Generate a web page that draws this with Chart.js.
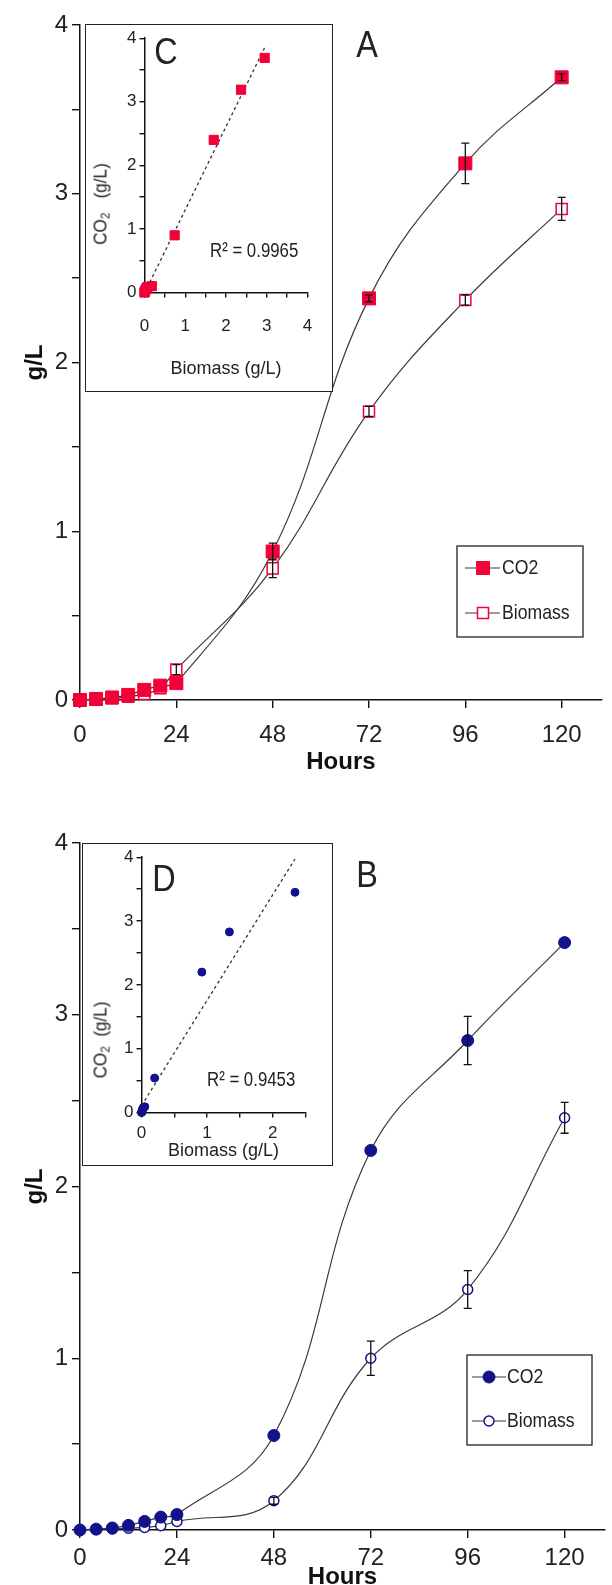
<!DOCTYPE html>
<html>
<head>
<meta charset="utf-8">
<script src="https://cdn.jsdelivr.net/npm/chart.js@4.4.1/dist/chart.umd.min.js"></script>
<style>
  html, body { margin: 0; padding: 0; background: #fff; overflow: hidden; }
  #page { position: relative; width: 612px; height: 1585px; overflow: hidden;
          font-family: "Liberation Sans Narrow", "Liberation Sans", Arial, sans-serif; color: #222; }
  #page canvas { position: absolute; left: 0; }
  #chartA { top: 0; }
  #chartB { top: 800px; }
  .inset { position: absolute; box-sizing: border-box; border: 1.5px solid #222; background: #fff; z-index: 2; }
  .inset canvas { top: 0; }
  #boxC { left: 85px; top: 24px; width: 248px; height: 368px; }
  #boxD { left: 82px; top: 843px; width: 251px; height: 323px; }
  .tag { position: absolute; transform: translate(-50%, -50%) scaleX(0.9); font-size: 36px; line-height: 1; z-index: 3; }
  .r2 { position: absolute; transform-origin: 0 50%; transform: translateY(-50%) scaleX(0.84); font-size: 20px;
        line-height: 1; white-space: nowrap; z-index: 3; }
  .ytitle { position: absolute; transform: translate(-50%, -50%) rotate(-90deg) scaleX(0.9); font-size: 19px;
            line-height: 1; white-space: nowrap; z-index: 3; }
  .ytitle sub { font-size: 13px; vertical-align: -3px; line-height: 0; }
</style>
</head>
<body>
<div id="page">
  <canvas id="chartA" width="612" height="780"></canvas>
  <canvas id="chartB" width="612" height="800"></canvas>
  <div class="inset" id="boxC"><canvas id="chartC" width="245" height="365"></canvas></div>
  <div class="inset" id="boxD"><canvas id="chartD" width="248" height="320"></canvas></div>
  <div class="tag" style="left:367px; top:45px;">A</div>
  <div class="tag" style="left:367px; top:875px;">B</div>
  <div class="tag" style="left:166px; top:52px;">C</div>
  <div class="tag" style="left:164px; top:879px;">D</div>
  <div class="r2" style="left:210px; top:250px;">R² = 0.9965</div>
  <div class="r2" style="left:207px; top:1079px;">R² = 0.9453</div>
  <div class="ytitle" style="left:100px; top:204px;">CO<sub>2</sub>&nbsp;&nbsp;&nbsp;(g/L)</div>
  <div class="ytitle" style="left:100px; top:1040px;">CO<sub>2</sub>&nbsp;&nbsp;(g/L)</div>
</div>
<script>
// Sampling times (hours) and axis ticks
const hours = [0, 4, 8, 12, 16, 20, 24, 48, 72, 96, 120];
const hourTicks = [0, 24, 48, 72, 96, 120];
const gLTicks = [0, 0.5, 1, 1.5, 2, 2.5, 3, 3.5, 4];
const insetCXTicks = [0, 0.5, 1, 1.5, 2, 2.5, 3, 3.5, 4];
const insetDXTicks = [0, 0.5, 1, 1.5, 2, 2.5];

// Panel A
const co2A = [0, 0.006, 0.015, 0.03, 0.06, 0.085, 0.1, 0.88, 2.38, 3.18, 3.69];
const co2AErr = [0, 0, 0, 0, 0, 0, 0, 0.05, 0.02, 0.12, 0.02];
const biomassA = [0, 0.004, 0.01, 0.02, 0.035, 0.07, 0.18, 0.78, 1.71, 2.37, 2.91];
const biomassAErr = [0, 0, 0, 0, 0, 0, 0.03, 0.055, 0.03, 0.03, 0.068];

// Panel B
const co2B = [0, 0.005, 0.012, 0.027, 0.05, 0.075, 0.09, 0.55, 2.21, 2.85, 3.42];
const co2BErr = [0, 0, 0, 0, 0, 0, 0, 0, 0, 0.14, 0];
const biomassB = [0, 0.003, 0.006, 0.01, 0.015, 0.025, 0.05, 0.17, 1.0, 1.4, 2.4];
const biomassBErr = [0, 0, 0, 0, 0, 0, 0, 0.02, 0.1, 0.11, 0.09];

// Inset C / D: CO2 vs biomass
const insetCBiomass = [0, 0.004, 0.01, 0.02, 0.035, 0.07, 0.18, 0.74, 1.7, 2.37, 2.95];
const insetCCO2 = [0, 0.006, 0.015, 0.03, 0.06, 0.085, 0.1, 0.9, 2.4, 3.19, 3.69];
const insetDBiomass = [0, 0.003, 0.006, 0.01, 0.015, 0.025, 0.05, 0.2, 0.92, 1.34, 2.34];
const insetDCO2 = [0, 0.005, 0.012, 0.027, 0.05, 0.075, 0.09, 0.54, 2.2, 2.83, 3.45];

const FONT = '"Liberation Sans Narrow", "Liberation Sans", Arial, sans-serif';
const RED = '#f20038';
const NAVY = '#12128a';
const LINE = '#3a3a3a';
Chart.defaults.font.family = FONT;

function pts(xs, ys) {
    return xs.map((x, i) => ({ x: x, y: ys[i] }));
}

function drawMarker(ctx, ds, x, y) {
    const r = ds.pointRadius;
    ctx.fillStyle = ds.pointBackgroundColor;
    ctx.strokeStyle = ds.pointBorderColor;
    ctx.lineWidth = ds.pointBorderWidth;
    ctx.beginPath();
    if (ds.pointStyle === 'rect') {
        const s = r * Math.SQRT1_2;
        ctx.rect(x - s, y - s, 2 * s, 2 * s);
    } else {
        ctx.arc(x, y, r, 0, Math.PI * 2);
    }
    ctx.fill();
    ctx.stroke();
}

// vertical error bars with caps
const errorBars = {
    id: 'errorBars',
    afterDatasetsDraw(chart) {
        const { ctx, scales: { x, y } } = chart;
        ctx.save();
        ctx.strokeStyle = '#111';
        ctx.lineWidth = 1.3;
        chart.data.datasets.forEach(ds => {
            if (!ds.errors) return;
            ds.data.forEach((p, j) => {
                const e = ds.errors[j];
                if (!e) return;
                const px = x.getPixelForValue(p.x);
                const top = y.getPixelForValue(p.y + e);
                const bot = y.getPixelForValue(p.y - e);
                ctx.beginPath();
                ctx.moveTo(px, top); ctx.lineTo(px, bot);
                ctx.moveTo(px - 4, top); ctx.lineTo(px + 4, top);
                ctx.moveTo(px - 4, bot); ctx.lineTo(px + 4, bot);
                ctx.stroke();
            });
        });
        ctx.restore();
    }
};

// boxed legend inside the plot
function legendBox(box) {
    return {
        id: 'legendBox',
        afterDraw(chart) {
            const ctx = chart.ctx;
            ctx.save();
            ctx.fillStyle = '#fff';
            ctx.fillRect(box.x, box.y, box.w, box.h);
            ctx.strokeStyle = '#222';
            ctx.lineWidth = 1.3;
            ctx.strokeRect(box.x, box.y, box.w, box.h);
            chart.data.datasets.forEach((ds, i) => {
                const ry = box.rows[i];
                ctx.strokeStyle = ds.borderColor;
                ctx.lineWidth = ds.borderWidth;
                ctx.beginPath();
                ctx.moveTo(box.lx0, ry); ctx.lineTo(box.lx1, ry);
                ctx.stroke();
                drawMarker(ctx, ds, box.mx, ry);
                // squeeze the text a bit, the original uses a narrow face
                ctx.save();
                ctx.translate(box.tx, ry);
                ctx.scale(0.84, 1);
                ctx.fillStyle = '#222';
                ctx.font = '21px ' + FONT;
                ctx.textBaseline = 'middle';
                ctx.fillText(ds.label, 0, 0);
                ctx.restore();
            });
            ctx.restore();
        }
    };
}

function axisStyle(tickLen) {
    return {
        grid: { display: true, drawOnChartArea: false, drawTicks: true, tickLength: tickLen, color: '#111', lineWidth: 1.4 },
        border: { display: true, color: '#111', width: 1.5 }
    };
}

function mainChart(id, cfg, datasets, legend) {
    return new Chart(document.getElementById(id), {
        type: 'line',
        data: { datasets: datasets },
        options: {
            responsive: false,
            animation: false,
            events: [],
            layout: { padding: { top: cfg.top, right: 3, left: 0, bottom: 0 } },
            plugins: { legend: { display: false }, tooltip: { enabled: false } },
            scales: {
                x: {
                    type: 'linear', min: 0, max: 130,
                    ...axisStyle(8),
                    afterFit: s => { s.height = cfg.axisH; },
                    afterBuildTicks: s => { s.ticks = hourTicks.map(v => ({ value: v })); },
                    ticks: { font: { size: 24 }, color: '#222', padding: cfg.labelPad, maxRotation: 0, autoSkip: false },
                    title: { display: true, text: 'Hours', color: '#111',
                             font: { size: 24, weight: 'bold', lineHeight: 1.1 },
                             padding: { top: 0, bottom: cfg.titlePad } }
                },
                y: {
                    type: 'linear', min: 0, max: 4,
                    ...axisStyle(8),
                    afterFit: s => { s.width = 80; },
                    afterBuildTicks: s => { s.ticks = gLTicks.map(v => ({ value: v })); },
                    ticks: { font: { size: 24 }, color: '#222', padding: 4, autoSkip: false,
                             callback: v => Number.isInteger(v) ? v : '' },
                    title: { display: true, text: 'g/L', color: '#111',
                             font: { size: 24, weight: 'bold', lineHeight: 1.1 },
                             padding: { top: 22, bottom: 0 } }
                }
            }
        },
        plugins: [errorBars, legendBox(legend)]
    });
}

function seriesStyle(color, filled, style, r) {
    return {
        borderColor: LINE, borderWidth: 1.2, tension: 0.4, clip: false,
        pointStyle: style, pointRadius: r,
        pointBackgroundColor: filled ? color : '#fff',
        pointBorderColor: color, pointBorderWidth: filled ? 1 : 1.5
    };
}

mainChart('chartA', { top: 25, axisH: 80, labelPad: 12.6, titlePad: 4.8 }, [
    { label: 'CO2', data: pts(hours, co2A), errors: co2AErr, ...seriesStyle(RED, true, 'rect', 9.2) },
    { label: 'Biomass', data: pts(hours, biomassA), errors: biomassAErr, ...seriesStyle(RED, false, 'rect', 7.8) }
], { x: 457, y: 546, w: 126, h: 91, rows: [568, 613], lx0: 465, lx1: 500, mx: 483, tx: 502 });

mainChart('chartB', { top: 43, axisH: 70, labelPad: 5.6, titlePad: 9.8 }, [
    { label: 'CO2', data: pts(hours, co2B), errors: co2BErr, ...seriesStyle(NAVY, true, 'circle', 6) },
    { label: 'Biomass', data: pts(hours, biomassB), errors: biomassBErr, ...seriesStyle(NAVY, false, 'circle', 5) }
], { x: 467, y: 555, w: 125, h: 90, rows: [577, 621], lx0: 472, lx1: 506, mx: 489, tx: 507 });

// least squares trend line through the inset points
function fitLine(xs, ys) {
    const n = xs.length;
    const mx = xs.reduce((a, b) => a + b, 0) / n;
    const my = ys.reduce((a, b) => a + b, 0) / n;
    let sxy = 0, sxx = 0;
    xs.forEach((x, i) => { sxy += (x - mx) * (ys[i] - my); sxx += (x - mx) * (x - mx); });
    const m = sxy / sxx, b = my - m * mx;
    const x1 = Math.max(...xs);
    return [{ x: 0, y: b }, { x: x1, y: b + m * x1 }];
}

function insetChart(id, cfg, xs, ys, xTicks, marker) {
    return new Chart(document.getElementById(id), {
        type: 'scatter',
        data: {
            datasets: [
                { data: pts(xs, ys), order: 0, clip: false, pointStyle: marker.style, pointRadius: marker.r,
                  pointBackgroundColor: marker.color, pointBorderColor: marker.color, pointBorderWidth: 1 },
                { data: fitLine(xs, ys), order: 1, showLine: true, pointRadius: 0,
                  borderColor: '#333', borderWidth: 1.3, borderDash: [3, 3] }
            ]
        },
        options: {
            responsive: false,
            animation: false,
            events: [],
            layout: { padding: { top: cfg.top, right: cfg.right, left: 0, bottom: 0 } },
            plugins: { legend: { display: false }, tooltip: { enabled: false } },
            scales: {
                x: {
                    type: 'linear', min: 0, max: xTicks[xTicks.length - 1],
                    ...axisStyle(5),
                    afterFit: s => { s.height = cfg.axisH; },
                    afterBuildTicks: s => { s.ticks = xTicks.map(v => ({ value: v })); },
                    ticks: { font: { size: 17 }, color: '#222', padding: cfg.labelPad, maxRotation: 0, autoSkip: false,
                             callback: v => Number.isInteger(v) ? v : '' },
                    title: { display: true, text: 'Biomass (g/L)', color: '#222',
                             font: { size: 18, lineHeight: 1.1 }, padding: { top: 0, bottom: cfg.titlePad } }
                },
                y: {
                    type: 'linear', min: 0, max: 4,
                    ...axisStyle(5),
                    afterFit: s => { s.width = 58.5; },
                    afterBuildTicks: s => { s.ticks = gLTicks.map(v => ({ value: v })); },
                    ticks: { font: { size: 17 }, color: '#222', padding: 3, autoSkip: false,
                             callback: v => Number.isInteger(v) ? v : '' }
                }
            }
        }
    });
}

insetChart('chartC', { top: 11.5, right: 15.5, axisH: 97.5, labelPad: 18.8, titlePad: 10.6 },
    insetCBiomass, insetCCO2, insetCXTicks, { style: 'rect', r: 6.5, color: RED });

insetChart('chartD', { top: 10.5, right: 25.5, axisH: 51.5, labelPad: 5.8, titlePad: 2.6 },
    insetDBiomass, insetDCO2, insetDXTicks, { style: 'circle', r: 4, color: NAVY });
</script>
</body>
</html>
